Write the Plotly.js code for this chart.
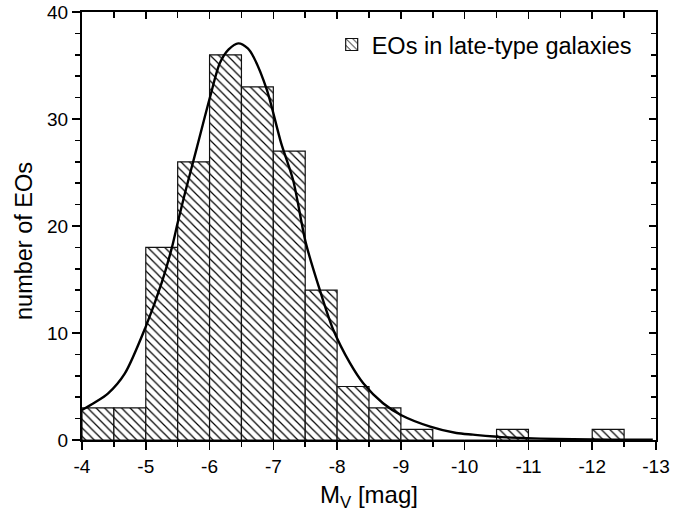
<!DOCTYPE html>
<html>
<head>
<meta charset="utf-8">
<script src="https://cdn.plot.ly/plotly-3.0.1.min.js"></script>
<style>
  html, body { margin: 0; padding: 0; background: #fff; }
  #chart { width: 693px; height: 517px; }
</style>
</head>
<body>
<div id="chart"></div>
<script>
// Histogram bins (centres, magnitude) and counts
var binCenters = [-4.25, -4.75, -5.25, -5.75, -6.25, -6.75, -7.25, -7.75, -8.25, -8.75, -9.25, -9.75, -10.25, -10.75, -11.25, -11.75, -12.25];
var counts     = [3, 3, 18, 26, 36, 33, 27, 14, 5, 3, 1, 0, 0, 1, 0, 0, 1];
var binWidth = 0.5;

// Fitted curve
var curveX = [-4.0, -4.2, -4.41, -4.67, -5.0, -5.25, -5.41, -5.5, -5.62, -5.8, -6.01, -6.16, -6.3, -6.45, -6.6, -6.69, -6.9, -7.12, -7.31, -7.51, -7.73, -7.94, -8.2, -8.41, -8.72, -9.0, -9.46, -9.87, -10.13, -10.66, -11.44, -12.0, -12.5, -12.95];
var curveY = [2.8, 3.5, 4.36, 6.2, 10.6, 14.7, 18.0, 20.3, 23.2, 27.3, 32.1, 35.2, 36.5, 37.07, 36.6, 35.8, 32.7, 27.8, 24.3, 18.4, 14.0, 10.3, 7.2, 5.3, 3.43, 2.34, 1.25, 0.65, 0.5, 0.25, 0.1, 0.05, 0.03, 0.02];

// Tick labels
var xTickVals = [-4, -5, -6, -7, -8, -9, -10, -11, -12, -13];
var xTickText = ['-4', '-5', '-6', '-7', '-8', '-9', '-10', '-11', '-12', '-13'];
var yTickVals = [0, 10, 20, 30, 40];
var yTickText = ['0', '10', '20', '30', '40'];

var seriesName = 'EOs in late-type galaxies';
var xTitle = 'M<sub>V</sub> [mag]';
var yTitle = 'number of EOs';

var widths = binCenters.map(function () { return binWidth; });

var bars = {
  type: 'bar',
  x: binCenters,
  y: counts,
  width: widths,
  name: seriesName,
  marker: {
    color: '#ffffff',
    line: { color: '#111111', width: 1.2 },
    pattern: { shape: '\\', fgcolor: '#000000', bgcolor: '#ffffff', size: 6, solidity: 0.2 }
  },
  xaxis: 'x', yaxis: 'y',
  hoverinfo: 'x+y'
};

var curve = {
  type: 'scatter',
  mode: 'lines',
  x: curveX,
  y: curveY,
  line: { color: '#000000', width: 2.4, shape: 'spline', smoothing: 0.8 },
  showlegend: false,
  xaxis: 'x', yaxis: 'y'
};

var mirror = {
  type: 'scatter', mode: 'markers', x: [], y: [],
  xaxis: 'x2', yaxis: 'y2', showlegend: false, hoverinfo: 'skip'
};

var fam = 'Liberation Sans, Arial, sans-serif';

var layout = {
  width: 693, height: 517,
  margin: { l: 82, r: 37, t: 12, b: 77 },
  paper_bgcolor: '#ffffff',
  plot_bgcolor: '#ffffff',
  font: { family: fam, color: '#000', size: 19 },
  bargap: 0,
  showlegend: true,
  legend: {
    x: 0.435, y: 0.975, xanchor: 'left', yanchor: 'top',
    bgcolor: 'rgba(0,0,0,0)', borderwidth: 0,
    font: { family: fam, size: 23.5, color: '#000' }
  },
  xaxis: {
    range: [-4, -13], autorange: false,
    tickmode: 'array', tickvals: xTickVals, ticktext: xTickText,
    ticks: 'outside', ticklen: 8, tickwidth: 1.5, tickcolor: '#000',
    minor: { dtick: 0.5, tick0: 0, ticks: 'outside', ticklen: 5, tickwidth: 1.5, tickcolor: '#000' },
    showline: true, linecolor: '#000', linewidth: 2,
    showgrid: false, zeroline: false,
    tickfont: { family: fam, size: 19, color: '#000' },
    title: { text: xTitle, font: { family: fam, size: 24, color: '#000' }, standoff: 10 }
  },
  yaxis: {
    range: [0, 40], autorange: false,
    tickmode: 'array', tickvals: yTickVals, ticktext: yTickText,
    ticks: 'outside', ticklen: 8, tickwidth: 1.5, tickcolor: '#000',
    minor: { dtick: 2, tick0: 0, ticks: 'outside', ticklen: 5, tickwidth: 1.5, tickcolor: '#000' },
    showline: true, linecolor: '#000', linewidth: 2,
    showgrid: false, zeroline: false,
    tickfont: { family: fam, size: 19, color: '#000' }
  },
  xaxis2: {
    overlaying: 'x', side: 'top', anchor: 'y2',
    range: [-4, -13], autorange: false,
    dtick: 1, tick0: 0,
    ticks: 'inside', ticklen: 7, tickwidth: 1.5, tickcolor: '#000',
    minor: { dtick: 0.5, tick0: 0, ticks: 'inside', ticklen: 6, tickwidth: 1.5, tickcolor: '#000' },
    showticklabels: false, showline: true, linecolor: '#000', linewidth: 2,
    showgrid: false, zeroline: false
  },
  yaxis2: {
    overlaying: 'y', side: 'right', anchor: 'x2',
    range: [0, 40], autorange: false,
    dtick: 10, tick0: 0,
    ticks: 'inside', ticklen: 7, tickwidth: 1.5, tickcolor: '#000',
    minor: { dtick: 2, tick0: 0, ticks: 'inside', ticklen: 5, tickwidth: 1.5, tickcolor: '#000' },
    showticklabels: false, showline: true, linecolor: '#000', linewidth: 2,
    showgrid: false, zeroline: false
  },
  annotations: [{
    text: yTitle, textangle: -90,
    xref: 'paper', yref: 'paper', x: -0.101, y: 0.465,
    xanchor: 'center', yanchor: 'middle', showarrow: false,
    font: { family: fam, size: 23.5, color: '#000' }
  }]
};

Plotly.newPlot('chart', [bars, curve, mirror], layout, { displayModeBar: false, staticPlot: true });
</script>
</body>
</html>
